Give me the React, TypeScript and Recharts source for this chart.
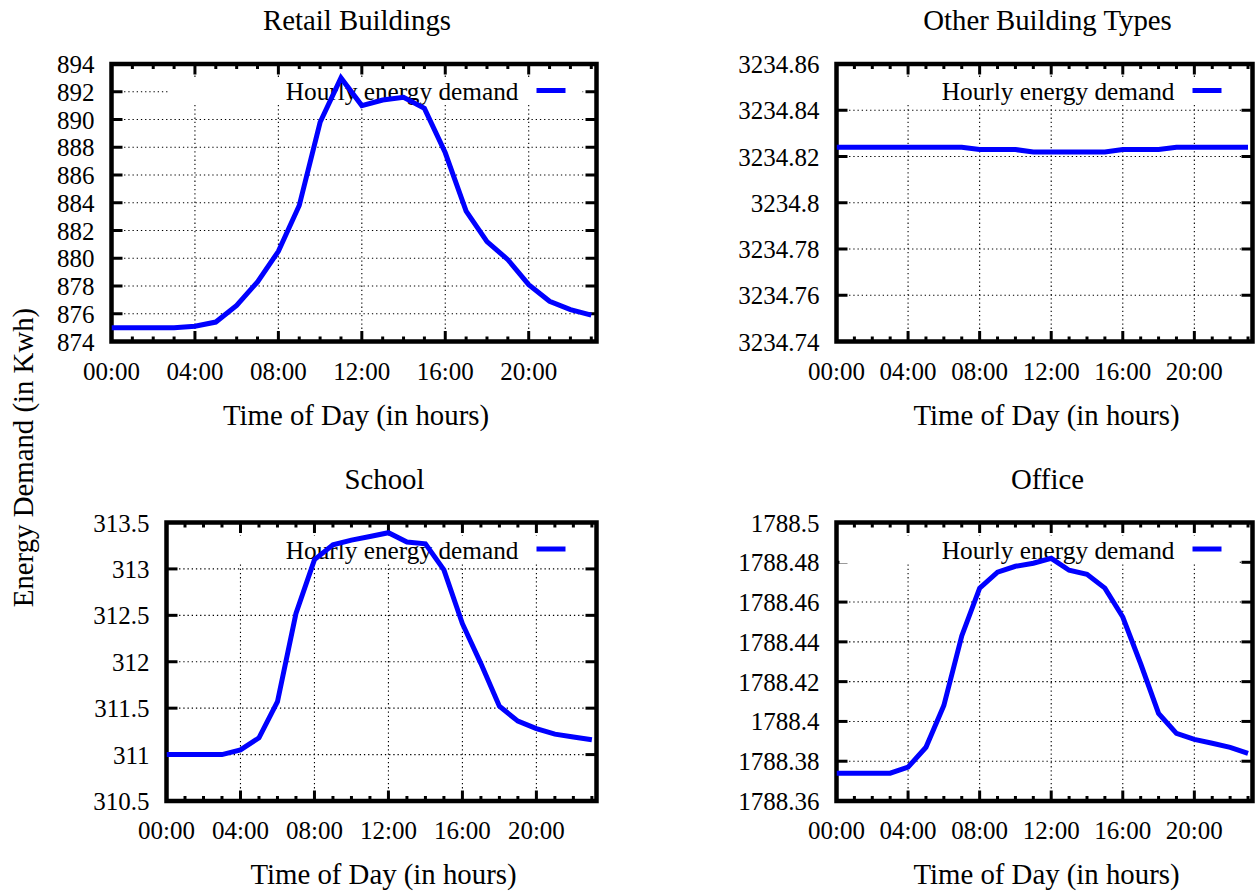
import { LineChart, Line, XAxis, YAxis, ReferenceLine, ReferenceArea } from 'recharts'

const hours = [0, 1, 2, 3, 4, 5, 6, 7, 8, 9, 10, 11, 12, 13, 14, 15, 16, 17, 18, 19, 20, 21, 22, 23]
const majorHours = [4, 8, 12, 16, 20]
const hourDomain: [number, number] = [0, 23.25]

const retailDemand = [875.0, 875.0, 875.0, 875.0, 875.1, 875.4, 876.6, 878.3, 880.5, 883.8, 889.8, 893.0, 891.0, 891.4, 891.6, 890.8, 887.6, 883.4, 881.2, 879.9, 878.1, 876.9, 876.3, 875.9]
const otherDemand = [3234.824, 3234.824, 3234.824, 3234.824, 3234.824, 3234.824, 3234.824, 3234.824, 3234.823, 3234.823, 3234.823, 3234.822, 3234.822, 3234.822, 3234.822, 3234.822, 3234.823, 3234.823, 3234.823, 3234.824, 3234.824, 3234.824, 3234.824, 3234.824]
const schoolDemand = [311.0, 311.0, 311.0, 311.0, 311.05, 311.18, 311.57, 312.52, 313.1, 313.26, 313.31, 313.35, 313.39, 313.29, 313.27, 312.99, 312.41, 311.98, 311.52, 311.36, 311.28, 311.22, 311.19, 311.16]
const officeDemand = [1788.374, 1788.374, 1788.374, 1788.374, 1788.377, 1788.387, 1788.408, 1788.443, 1788.467, 1788.475, 1788.478, 1788.4795, 1788.482, 1788.476, 1788.474, 1788.467, 1788.4525, 1788.429, 1788.404, 1788.394, 1788.391, 1788.389, 1788.387, 1788.384]

const retailTicks = [874, 876, 878, 880, 882, 884, 886, 888, 890, 892, 894]
const otherTicks = [3234.74, 3234.76, 3234.78, 3234.8, 3234.82, 3234.84, 3234.86]
const schoolTicks = [310.5, 311, 311.5, 312, 312.5, 313, 313.5]
const officeTicks = [1788.36, 1788.38, 1788.4, 1788.42, 1788.44, 1788.46, 1788.48, 1788.5]

const SERIF = "'Liberation Serif', 'Times New Roman', serif"
const BLUE = '#0000ff'

type Frame = { left: number; top: number; right: number; bottom: number }
type Box = { x: number; y: number; w: number; h: number }

const hourLabel = (h: number) => `${h < 10 ? '0' : ''}${h}:00`

function Panel({ title, values, ticks, frame, box }: { title: string; values: number[]; ticks: number[]; frame: Frame; box: Box }) {
  const rows = hours.map((hour, i) => ({ hour, value: values[i] }))
  const yDomain: [number, number] = [ticks[0], ticks[ticks.length - 1]]
  // frame in the chart's own coordinates
  const f = {
    left: frame.left - box.x,
    right: frame.right - box.x,
    top: frame.top - box.y,
    bottom: frame.bottom - box.y,
  }
  const mid = (f.left + f.right) / 2 + 2

  const HourTick = (props: any) => {
    const { x, payload } = props
    const h = payload.value as number
    const major = h % 4 === 0
    const len = major ? 10.5 : 5
    return (
      <g>
        <line x1={x} x2={x} y1={f.bottom} y2={f.bottom - len} stroke="#000" strokeWidth={3} />
        <line x1={x} x2={x} y1={f.top} y2={f.top + len} stroke="#000" strokeWidth={3} />
        {major && (
          <text x={x} y={f.bottom + 38} textAnchor="middle" fontFamily={SERIF} fontSize={25} fill="#000">
            {hourLabel(h)}
          </text>
        )}
      </g>
    )
  }

  const ValueTick = (props: any) => {
    const { y, payload } = props
    return (
      <g>
        <line x1={f.left} x2={f.left + 11} y1={y} y2={y} stroke="#000" strokeWidth={3} />
        <line x1={f.right - 11} x2={f.right} y1={y} y2={y} stroke="#000" strokeWidth={3} />
        <text x={f.left - 17} y={y + 9} textAnchor="end" fontFamily={SERIF} fontSize={25} fill="#000">
          {String(payload.value)}
        </text>
      </g>
    )
  }

  const layer = { position: 'absolute' as const, left: box.x, top: box.y, width: box.w, height: box.h }
  const keyLeft = Math.max(f.left + 3, f.right - 427)

  return (
    <>
      <div style={layer}>
        <LineChart
          width={box.w}
          height={box.h}
          data={rows}
          margin={{ top: f.top, right: box.w - f.right, bottom: 0, left: 0 }}
        >
          <XAxis
            dataKey="hour"
            type="number"
            domain={hourDomain}
            ticks={hours}
            interval={0}
            height={box.h - f.bottom}
            axisLine={false}
            tickLine={false}
            tickSize={0}
            tickMargin={0}
            tick={HourTick}
            allowDataOverflow
            label={{ value: 'Time of Day (in hours)', position: 'insideBottom', offset: 0, content: () => (
              <text x={mid} y={f.bottom + 83} textAnchor="middle" fontFamily={SERIF} fontSize={28.8} fill="#000">
                Time of Day (in hours)
              </text>
            ) }}
          />
          <YAxis
            type="number"
            domain={yDomain}
            ticks={ticks}
            interval={0}
            width={f.left}
            axisLine={false}
            tickLine={false}
            tickSize={0}
            tickMargin={0}
            tick={ValueTick}
            allowDataOverflow
          />
          {ticks.slice(1, -1).map((t) => (
            <ReferenceLine key={`h${t}`} y={t} stroke="#000" strokeWidth={1.1} strokeDasharray="1.3 2.9" />
          ))}
          {majorHours.map((h) => (
            <ReferenceLine key={`v${h}`} x={h} stroke="#000" strokeWidth={1.1} strokeDasharray="1.3 2.9" />
          ))}
          <ReferenceArea
            x1={hourDomain[0]}
            x2={hourDomain[1]}
            y1={yDomain[0]}
            y2={yDomain[1]}
            fill="none"
            fillOpacity={0}
            stroke="#000"
            strokeWidth={4.5}
          />
        </LineChart>
      </div>

      {/* opaque key box: sits over the grid, under the data line */}
      <svg style={layer} width={box.w} height={box.h}>
        <rect x={keyLeft} y={f.top + 13} width={f.right - 14 - keyLeft} height={28} fill="#fff" />
        <text x={f.right - 78} y={f.top + 36} textAnchor="end" fontFamily={SERIF} fontSize={25.3} fill="#000">
          Hourly energy demand
        </text>
        <line x1={f.right - 60} x2={f.right - 31} y1={f.top + 26.5} y2={f.top + 26.5} stroke={BLUE} strokeWidth={5} />
        <text x={mid + 1} y={f.top - 34} textAnchor="middle" fontFamily={SERIF} fontSize={28.8} fill="#000">
          {title}
        </text>
      </svg>

      <div style={layer}>
        <LineChart
          width={box.w}
          height={box.h}
          data={rows}
          margin={{ top: f.top, right: box.w - f.right, bottom: box.h - f.bottom, left: f.left }}
        >
          <XAxis dataKey="hour" type="number" domain={hourDomain} hide allowDataOverflow />
          <YAxis type="number" domain={yDomain} hide allowDataOverflow />
          <Line
            type="linear"
            dataKey="value"
            stroke={BLUE}
            strokeWidth={5}
            dot={false}
            activeDot={false}
            isAnimationActive={false}
          />
        </LineChart>
      </div>
    </>
  )
}

export default function App() {
  return (
    <div style={{ position: 'absolute', left: 0, top: 0, width: 1256, height: 892, background: '#fff' }}>
      <svg style={{ position: 'absolute', left: 0, top: 0 }} width={1256} height={892}>
        <text
          transform="translate(33 457.5) rotate(-90)"
          textAnchor="middle"
          fontFamily={SERIF}
          fontSize={28.8}
          fill="#000"
        >
          Energy Demand (in Kwh)
        </text>
      </svg>
      <Panel
        title="Retail Buildings"
        values={retailDemand}
        ticks={retailTicks}
        frame={{ left: 111.5, top: 64, right: 596.5, bottom: 341.5 }}
        box={{ x: 0, y: 0, w: 628, h: 446 }}
      />
      <Panel
        title="Other Building Types"
        values={otherDemand}
        ticks={otherTicks}
        frame={{ left: 836.5, top: 64, right: 1252.5, bottom: 341.5 }}
        box={{ x: 628, y: 0, w: 628, h: 446 }}
      />
      <Panel
        title="School"
        values={schoolDemand}
        ticks={schoolTicks}
        frame={{ left: 166.5, top: 522.5, right: 596.5, bottom: 801 }}
        box={{ x: 0, y: 446, w: 628, h: 446 }}
      />
      <Panel
        title="Office"
        values={officeDemand}
        ticks={officeTicks}
        frame={{ left: 836.5, top: 522.5, right: 1252.5, bottom: 801 }}
        box={{ x: 628, y: 446, w: 628, h: 446 }}
      />
    </div>
  )
}
